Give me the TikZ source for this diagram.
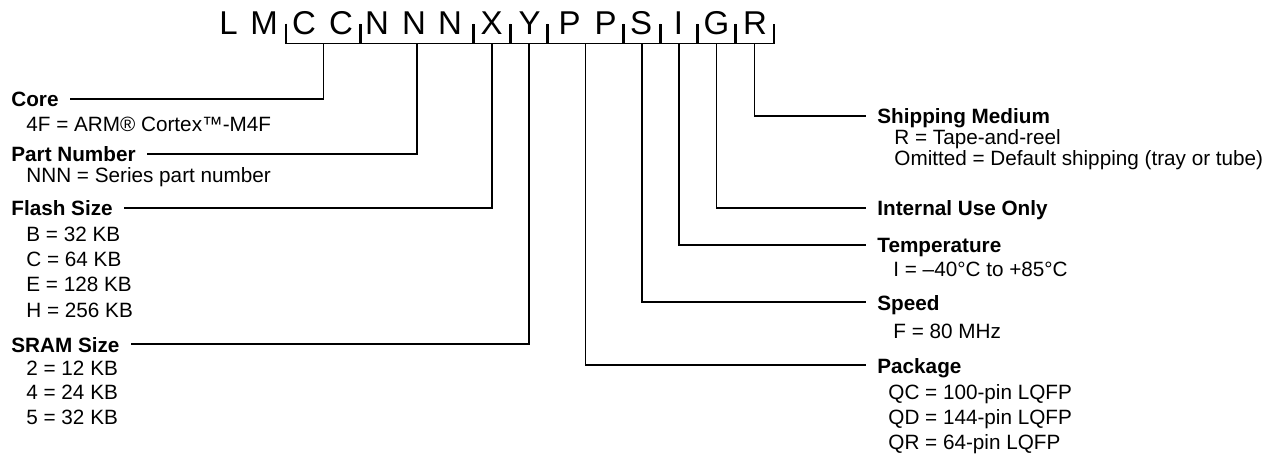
\documentclass[tikz,border=0pt]{standalone}
\usepackage{fontspec}
\setmainfont{Liberation Sans}
\usetikzlibrary{positioning}

\begin{document}
\begin{tikzpicture}[x=0.5pt,y=-0.5pt,
    letter/.style={font=\fontsize{16.5}{18}\selectfont,anchor=base,inner sep=0pt},
    grp/.style={minimum height=9.5pt,inner sep=0pt},
    hdr/.style={font=\fontsize{10.35}{12.4}\selectfont\bfseries,anchor=base west,
      inner xsep=5.5pt,inner ysep=0pt,text height=0.8em,text depth=0pt},
    item/.style={font=\fontsize{10.35}{12.4}\selectfont,anchor=base west,inner sep=0pt},
    link/.style={line width=0.8pt}]
  \useasboundingbox (0,0) rectangle (1279,454);
  % part number letters
  \foreach \c/\x [count=\i] in {L/228.5,M/264,C/304,C/341,N/377,N/414,N/450,
      X/491.5,Y/529.5,P/569.5,P/605.5,S/641,I/678.5,G/716.5,R/755}
    \node[letter] (ch\i) at (\x,35) {\c};
  % field brackets
  \foreach \name/\l/\w in {gC/286/37pt,gN/360/56.5pt,gX/473/18.5pt,gY/510/18.5pt,
      gP/547/38pt,gS/623/18.5pt,gI/660/18.5pt,gG/697/19pt,gR/735/19pt}
  {
    \node[grp,minimum width=\w,anchor=west] (\name) at (\l,33.5) {};
    \draw[line width=0.7pt] (\name.north west) |- (\name.south) -| (\name.north east);
  }

  % left fields
  \node[hdr] (core) at (0,107) {Core};
  \node[item] (coreA) at (26,132) {4F = ARM® Cortex™-M4F};
  \node[hdr] (pn) at (0,162) {Part Number};
  \node[item] (pnA) at (26,183) {NNN = Series part number};
  \node[hdr] (flash) at (0,216) {Flash Size};
  \foreach \t [count=\i from 0] in {B = 32 KB,C = 64 KB,E = 128 KB,H = 256 KB}
    \node[item] (flash\i) at (26,242+25*\i) {\t};
  \node[hdr] (sram) at (0,352) {SRAM Size};
  \foreach \t [count=\i from 0] in {2 = 12 KB,4 = 24 KB,5 = 32 KB}
    \node[item] (sram\i) at (26,375+24.5*\i) {\t};

  % right fields
  \node[hdr] (ship) at (866,124) {Shipping Medium};
  \node[item] (shipA) at (894,144.5) {R = Tape-and-reel};
  \node[item] (shipB) at (894,166) {Omitted = Default shipping (tray or tube)};
  \node[hdr] (iuo) at (866,216) {Internal Use Only};
  \node[hdr] (temp) at (866,253) {Temperature};
  \node[item] (tempA) at (893,277) {I = –40°C to +85°C};
  \node[hdr] (speed) at (866,310) {Speed};
  \node[item] (speedA) at (893,338) {F = 80 MHz};
  \node[hdr] (pkg) at (866,373) {Package};
  \foreach \t [count=\i from 0] in {QC = 100-pin LQFP,QD = 144-pin LQFP,QR = 64-pin LQFP}
    \node[item] (pkg\i) at (888,399+25*\i) {\t};

  % connectors
  \draw[link] (gC.south) |- (core.east);
  \draw[link] (gN.south) |- (pn.east);
  \draw[link] (gX.south) |- (flash.east);
  \draw[link] (gY.south) |- (sram.east);
  \draw[link] (gP.south) |- (pkg.west);
  \draw[link] (gS.south) |- (speed.west);
  \draw[link] (gI.south) |- (temp.west);
  \draw[link] (gG.south) |- (iuo.west);
  \draw[link] (gR.south) |- (ship.west);
\end{tikzpicture}
\end{document}
